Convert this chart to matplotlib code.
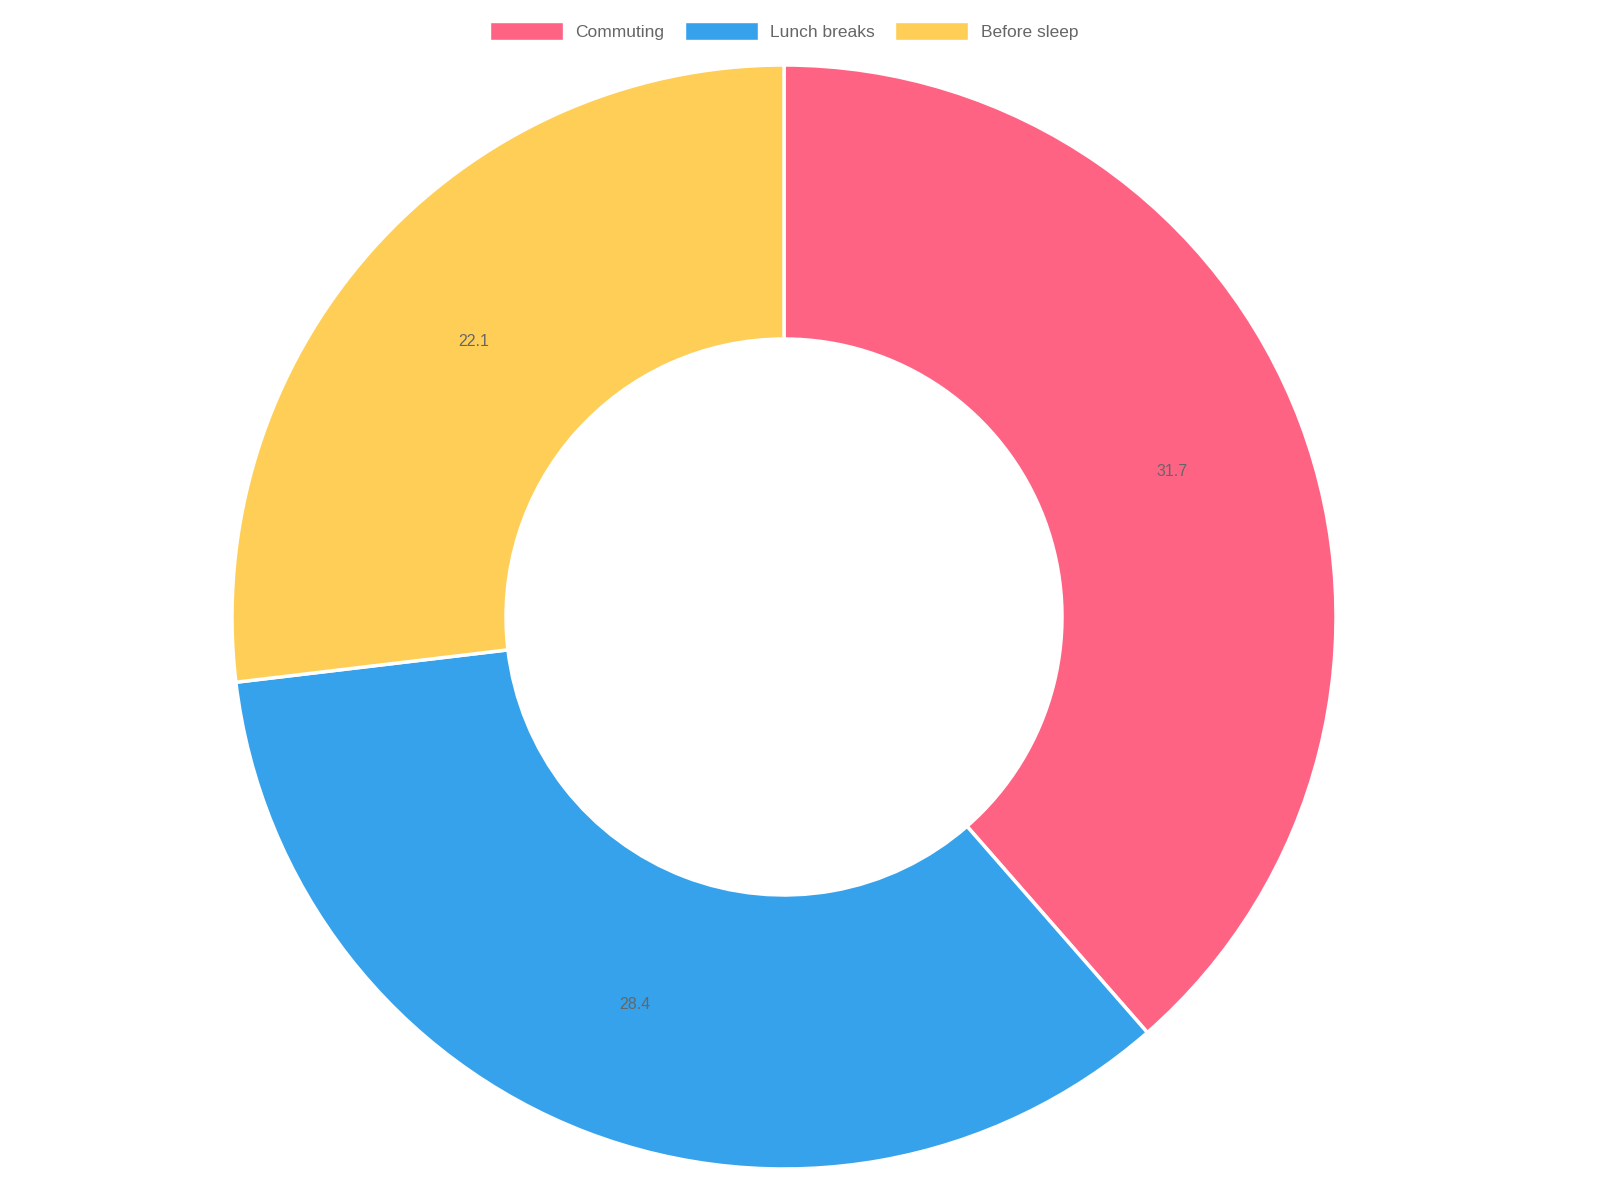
import matplotlib
matplotlib.use("Agg")
import matplotlib.pyplot as plt
from matplotlib.patches import Patch
import numpy as np

labels = ["Commuting", "Lunch breaks", "Before sleep"]
values = [31.7, 28.4, 22.1]
colors = ["#FF6384", "#36A2EB", "#FFCE56"]

plt.rcParams['font.family'] = ['Liberation Sans', 'DejaVu Sans']
fig = plt.figure(figsize=(16, 12), dpi=100)
cx, cy, R = 784, 617, 552
ax = fig.add_axes([(cx - R) / 1600, (1200 - cy - R) / 1200, 2 * R / 1600, 2 * R / 1200])
inner = 278 / 552
wedges, _ = ax.pie(values, colors=colors, startangle=90, counterclock=False, radius=1,
                   wedgeprops=dict(width=1 - inner, edgecolor="white", linewidth=2.5))
rmid = (1 + inner) / 2
for w, v in zip(wedges, values):
    ang = np.deg2rad((w.theta1 + w.theta2) / 2)
    ax.text(rmid * np.cos(ang), rmid * np.sin(ang), f"{v}", ha="center", va="center",
            fontsize=11.5, color="#666666")
ax.set_xlim(-1, 1); ax.set_ylim(-1, 1); ax.set_aspect("equal"); ax.axis("off")

handles = [Patch(facecolor=c, edgecolor="white") for c in colors]
fig.legend(handles, labels, loc="center", bbox_to_anchor=(0.49, 1 - 31 / 1200), ncol=3,
           frameon=False, fontsize=12.5, labelcolor="#666666", handlelength=4.2,
           handleheight=1.2, columnspacing=1.2, handletextpad=0.7)
fig.savefig("out.png", dpi=100, facecolor="white")
